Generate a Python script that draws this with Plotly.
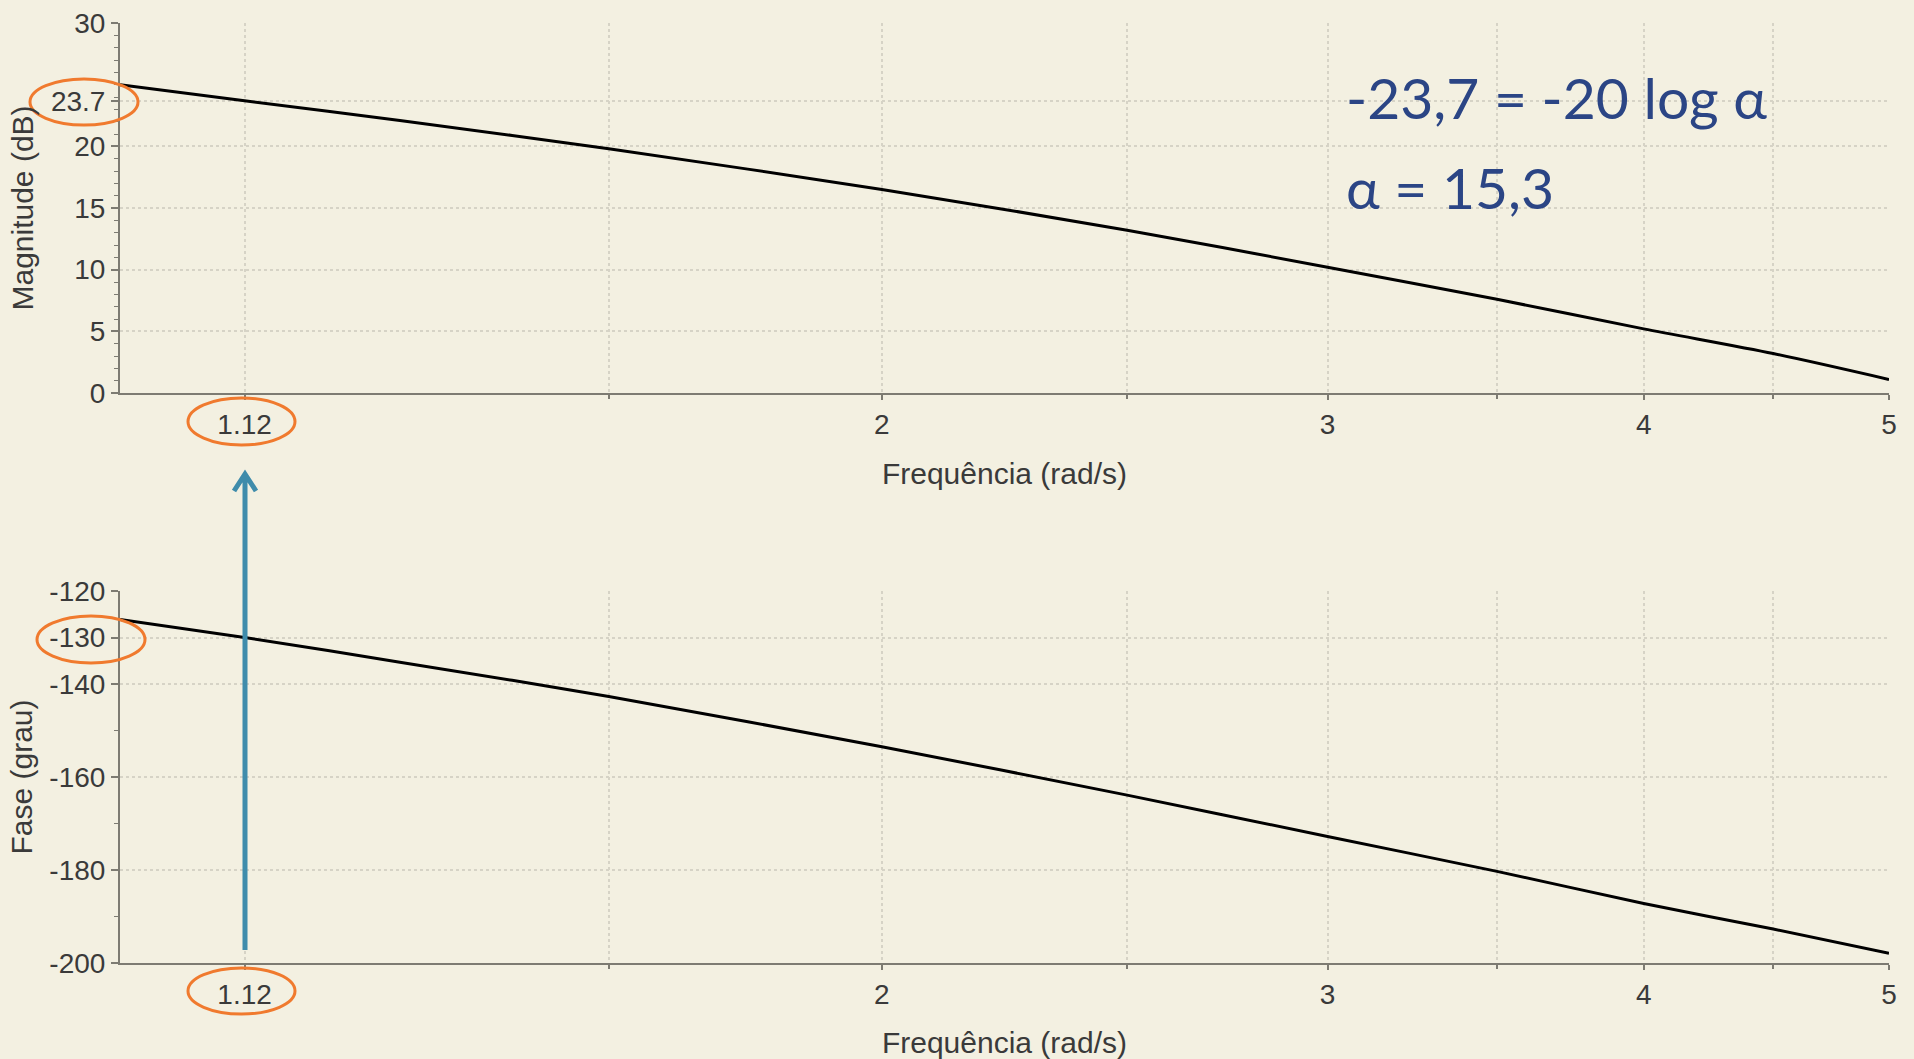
import math
import plotly.graph_objects as go

# ---------------- data ----------------
freq = [1.0, 1.12, 1.29, 1.56, 2.0, 2.5, 3.0, 3.5, 4.0, 4.5, 5.0]
mag_db = [25.0, 23.7, 22.1, 19.8, 16.5, 13.2, 10.2, 7.6, 5.2, 3.2, 1.1]
phase_deg = [-126.1, -130.0, -135.3, -142.7, -153.5, -163.9, -172.8, -180.3, -187.2, -192.7, -197.9]

mag_tickvals = [0, 5, 10, 15, 20, 23.7, 30]
mag_ticktext = ["0", "5", "10", "15", "20", "23.7", "30"]
mag_minor = [v for v in range(1, 30) if v not in (5, 10, 15, 20)]
phase_tickvals = [-200, -180, -160, -140, -130, -120]
phase_ticktext = ["-200", "-180", "-160", "-140", "-130", "-120"]
phase_minor = [-190, -170, -150]
freq_tickvals = [1.12, 2, 3, 4, 5]
freq_ticktext = ["1.12", "2", "3", "4", "5"]
freq_minor = [1.56, 2.5, 3.5, 4.5]

eq_line1 = "-23,7 = -20 log α"
eq_line2 = "α = 15,3"

# ---------------- style ----------------
BG = "#f3f0e1"
AXIS = "#7d7b72"
GRID = "#d6d3c6"
TXT = "#3a3a3a"
ORANGE = "#f07a2e"
BLUE = "#3f8cab"
NAVY = "#2b4585"
TICKFONT = dict(family="Liberation Sans, Arial", size=28, color=TXT)
TITLEFONT = dict(family="Liberation Sans, Arial", size=30, color=TXT)

W, H = 1914, 1059
L, R, T, B = 120, 25, 23, 96
PW, PH = W - L - R, H - T - B


def pxx(x):
    return (x - L) / PW


def pxy(y):
    return (H - B - y) / PH


fig = go.Figure()
fig.add_trace(go.Scatter(x=freq, y=mag_db, mode="lines",
                         line=dict(color="#000000", width=3, shape="spline", smoothing=0.8),
                         xaxis="x", yaxis="y", showlegend=False))
fig.add_trace(go.Scatter(x=freq, y=phase_deg, mode="lines",
                         line=dict(color="#000000", width=3, shape="spline", smoothing=0.8),
                         xaxis="x2", yaxis="y2", showlegend=False))

common_x = dict(type="log", range=[0, math.log10(5)], tickvals=freq_tickvals, ticktext=freq_ticktext,
                ticks="outside", ticklen=5, tickwidth=2, tickcolor=AXIS, showline=True, linecolor=AXIS,
                linewidth=2, showgrid=True, gridcolor=GRID, griddash="dot", gridwidth=2, zeroline=False,
                tickfont=TICKFONT, automargin=False,
                minor=dict(tickvals=freq_minor, ticks="outside", ticklen=4, tickwidth=2, tickcolor=AXIS,
                           showgrid=True, gridcolor=GRID, griddash="dot", gridwidth=2),
                title=dict(text="Frequência (rad/s)", font=TITLEFONT, standoff=24))

top_dom = [pxy(393), 1.0]
bot_dom = [0.0, pxy(591)]

fig.update_layout(
    width=W, height=H,
    margin=dict(l=L, r=R, t=T, b=B, pad=0),
    paper_bgcolor=BG, plot_bgcolor=BG,
    xaxis=dict(common_x, anchor="y", domain=[0, 1]),
    xaxis2=dict(common_x, anchor="y2", domain=[0, 1]),
    yaxis=dict(domain=top_dom, range=[0, 30], tickvals=mag_tickvals, ticktext=mag_ticktext,
               ticks="outside", ticklen=7, tickwidth=2, tickcolor=AXIS, showline=True, linecolor=AXIS,
               linewidth=2, showgrid=True, gridcolor=GRID, griddash="dot", gridwidth=2, zeroline=False,
               tickfont=TICKFONT, automargin=False,
               minor=dict(tickvals=mag_minor, ticks="outside", ticklen=4, tickwidth=1, tickcolor=AXIS,
                          showgrid=False),
               title=dict(text="Magnitude (dB)", font=TITLEFONT, standoff=8)),
    yaxis2=dict(domain=bot_dom, range=[-200, -120], tickvals=phase_tickvals, ticktext=phase_ticktext,
                ticks="outside", ticklen=7, tickwidth=2, tickcolor=AXIS, showline=True, linecolor=AXIS,
                linewidth=2, showgrid=True, gridcolor=GRID, griddash="dot", gridwidth=2, zeroline=False,
                tickfont=TICKFONT, automargin=False,
                minor=dict(tickvals=phase_minor, ticks="outside", ticklen=4, tickwidth=1, tickcolor=AXIS,
                           showgrid=False),
                title=dict(text="Fase (grau)", font=TITLEFONT, standoff=8)),
)

# orange ellipses around highlighted tick labels
ellipses = [(30, 79, 138, 125), (188, 398, 295, 445), (37, 616, 145, 663), (188, 968, 295, 1014)]
for x0, y0, x1, y1 in ellipses:
    fig.add_shape(type="circle", xref="paper", yref="paper", x0=pxx(x0), x1=pxx(x1), y0=pxy(y1), y1=pxy(y0),
                  line=dict(color=ORANGE, width=3), layer="above")

# blue arrow
path = (f"M {pxx(245)},{pxy(950)} L {pxx(245)},{pxy(474)} "
        f"M {pxx(234)},{pxy(491)} L {pxx(245)},{pxy(474)} L {pxx(256)},{pxy(491)}")
fig.add_shape(type="path", xref="paper", yref="paper", path=path,
              line=dict(color=BLUE, width=5), layer="above")

# equation text
EQFONT = dict(family="Lato, Open Sans, Noto Sans", size=57, color=NAVY)
fig.add_annotation(text=eq_line1, xref="paper", yref="paper", x=pxx(1344), y=pxy(97),
                   xanchor="left", yanchor="middle", showarrow=False, font=EQFONT)
fig.add_annotation(text=eq_line2, xref="paper", yref="paper", x=pxx(1344), y=pxy(187),
                   xanchor="left", yanchor="middle", showarrow=False, font=EQFONT)

fig.write_html("out.html", config={"displayModeBar": False},
               post_script="document.body.style.margin='0';document.body.style.overflow='hidden';")
